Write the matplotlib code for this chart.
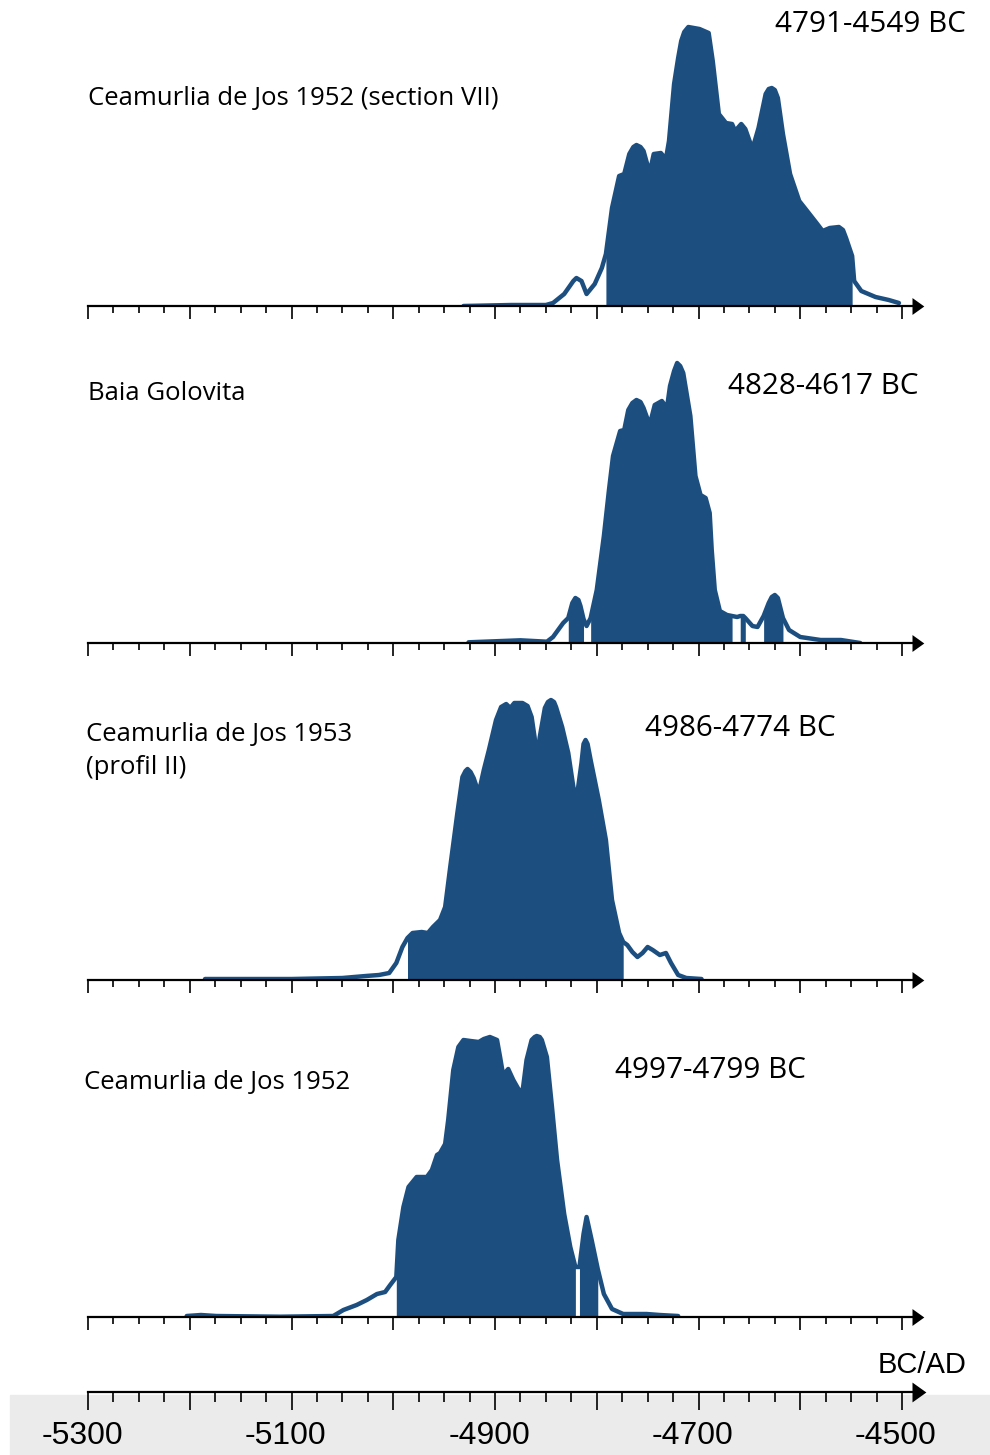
import numpy as np
import matplotlib.pyplot as plt
from matplotlib.patches import Rectangle
from matplotlib.transforms import ScaledTranslation

# krivulje vjerojatnosti (godine BC kao negativni brojevi, visina u relativnim jedinicama)
c1_years = [-4931, -4884, -4850, -4843, -4832, -4823, -4820, -4815, -4810, -4802, -4795,
            -4791, -4785, -4778, -4773, -4768, -4764, -4761, -4757, -4754, -4748, -4744, -4737,
            -4732, -4729, -4724, -4720, -4717, -4714, -4710, -4699, -4690, -4686, -4680, -4673,
            -4667, -4664, -4658, -4654, -4647, -4641, -4634, -4631, -4628, -4625, -4622, -4617,
            -4610, -4601, -4594, -4584, -4578, -4571, -4562, -4558, -4555, -4549, -4547,
            -4540, -4526, -4513, -4503]
c1_dens = [0, 1, 1, 3, 12, 25, 28, 25, 12, 22, 38,
           52, 98, 130, 132, 152, 159, 161, 159, 155, 133, 152, 153,
           147, 165, 222, 248, 265, 274, 279, 277, 273, 245, 192, 183,
           182, 175, 182, 177, 157, 178, 212, 217, 218, 216, 208, 172,
           132, 105, 96, 83, 75, 78, 79, 76, 68, 50, 25,
           15, 9, 6, 3]
c1_ranges = [(-4791, -4549)]

c2_years = [-4926, -4875, -4849, -4843, -4833, -4828, -4824, -4821, -4818, -4816, -4813, -4810,
            -4806, -4800, -4793, -4788, -4784, -4777, -4773, -4769, -4765, -4761, -4757, -4754,
            -4748, -4743, -4736, -4731, -4728, -4724, -4721, -4718, -4715, -4708, -4703, -4698,
            -4693, -4689, -4687, -4684, -4679, -4672, -4667, -4662, -4659, -4656,
            -4654, -4647, -4642, -4636, -4631, -4628, -4625, -4622, -4620, -4617, -4611, -4600,
            -4580, -4560, -4541]
c2_dens = [0.7, 2.7, 1.3, 6, 20, 25, 40, 45, 43, 37, 24, 17,
           25, 53, 107, 153, 187, 212, 213, 233, 240, 243, 241, 235,
           218, 238, 242, 235, 257, 272, 280, 277, 270, 227, 167, 148,
           145, 130, 93, 53, 32, 28, 27, 26, 27, 27,
           25, 17, 16, 27, 40, 46, 48, 45, 37, 25, 13, 6,
           3, 3, 0]
c2_ranges = [(-4828, -4813), (-4806, -4667), (-4659, -4654), (-4636, -4617)]

c3_years = [-5185, -5100, -5050, -5027, -5014, -5004, -4997, -4991, -4986, -4981,
            -4972, -4966, -4961, -4954, -4949, -4944, -4937, -4932, -4929, -4927, -4924, -4921,
            -4916, -4911, -4906, -4899, -4894, -4889, -4885, -4881, -4873, -4868,
            -4864, -4861, -4859, -4856, -4851, -4848, -4845, -4842, -4840, -4834, -4828, -4823,
            -4820, -4815, -4813, -4811, -4809, -4806, -4798, -4791, -4785, -4778, -4774, -4770,
            -4765, -4760, -4755, -4750, -4745, -4738, -4732, -4727, -4720, -4712,
            -4697]
c3_dens = [1, 1, 2, 4, 5, 7, 17, 33, 42, 47,
           48, 47, 53, 60, 73, 113, 167, 203, 209, 211, 208, 202,
           187, 210, 230, 260, 273, 276, 272, 277, 277, 274,
           263, 242, 220, 243, 272, 278, 280, 278, 273, 253, 227, 193,
           180, 217, 236, 240, 236, 220, 180, 140, 80, 47, 38, 35,
           28, 23, 27, 33, 30, 25, 27, 17, 5, 2,
           1]
c3_ranges = [(-4986, -4774)]

c4_years = [-5203, -5189, -5174, -5111, -5059, -5049, -5036, -5026, -5016, -5008,
            -5003, -4997, -4995, -4990, -4985, -4977, -4967, -4962, -4957, -4954,
            -4949, -4946, -4941, -4936, -4931, -4924, -4916, -4911, -4905, -4898,
            -4895, -4892, -4887, -4882, -4877, -4873, -4869, -4864, -4861, -4859, -4856, -4854,
            -4849, -4844, -4839, -4832, -4826, -4821, -4817, -4813, -4810, -4805,
            -4799, -4793, -4785, -4774, -4751, -4738, -4720]
c4_dens = [1, 2, 1, 0.3, 1, 7, 12, 17, 23, 25,
           32, 40, 77, 110, 130, 140, 140, 147, 162, 164,
           173, 197, 247, 270, 277, 276, 275, 278, 280, 277,
           260, 242, 248, 237, 228, 225, 257, 277, 280, 281, 280, 277,
           260, 210, 157, 103, 70, 50, 50, 83, 100, 77,
           48, 23, 8, 3, 3, 2, 1]
c4_ranges = [(-4997, -4821), (-4817, -4799)]

names = ["Ceamurlia de Jos 1952 (section VII)", "Baia Golovita",
         "Ceamurlia de Jos 1953\n(profil II)", "Ceamurlia de Jos 1952"]
range_labels = ["4791-4549 BC", "4828-4617 BC", "4986-4774 BC", "4997-4799 BC"]
tick_labels = ["-5300", "", "-5100", "", "-4900", "", "-4700", "", "-4500"]

W, H = 990, 1455
plava = "#1c4f80"
x0_px, px_per_yr = 88, 814 / 800.0
x_end = -4490
strelica = [(0, -10), (0, 10), (14, 0), (0, -10)]   # vrh strelice na kraju osi


def ax_at(bottom_px, height_px):
    # pravi os u pikselima, lijevi rub je -5300
    left = x0_px / W
    width = (x_end + 5300) * px_per_yr / W
    return fig.add_axes([left, 1 - bottom_px / H, width, height_px / H])


def axis_line(ax, labels=False):
    ax.set_xlim(-5300, x_end)
    for s in ["top", "right", "left"]:
        ax.spines[s].set_visible(False)
    ax.spines["bottom"].set_linewidth(1.6)
    ax.set_yticks([])
    ax.set_xticks(np.arange(-5300, -4499, 100))
    ax.set_xticks(np.arange(-5300, -4499, 25), minor=True)
    if labels:
        ax.tick_params(axis="x", which="major", length=13, width=1.2, direction="out", pad=8)
        ax.tick_params(axis="x", which="minor", length=7, width=1.2, direction="out")
        ax.set_xticklabels(tick_labels, fontsize=23, family="Liberation Sans")
        # brojevi su malo pomaknuti ulijevo od crtice
        for t in ax.get_xticklabels():
            t.set_transform(t.get_transform() + ScaledTranslation(-6 / 100, 0, fig.dpi_scale_trans))
        ms = 20
    else:
        ax.tick_params(axis="x", which="major", length=9.5, width=1.2, direction="out")
        ax.tick_params(axis="x", which="minor", length=5, width=1.2, direction="out")
        ax.set_xticklabels([])
        ms = 17
    ax.plot([x_end], [0], marker=strelica, ms=ms, color="black", mew=0, clip_on=False,
            transform=ax.get_xaxis_transform())
    ax.patch.set_alpha(0)


fig = plt.figure(figsize=(W / 100, H / 100), dpi=100)

# siva traka na dnu
fig.add_artist(Rectangle((10 / W, 0), 1, (H - 1395) / H, transform=fig.transFigure,
                         color="#ebebeb", zorder=-5))

curves = [(c1_years, c1_dens, c1_ranges), (c2_years, c2_dens, c2_ranges),
          (c3_years, c3_dens, c3_ranges), (c4_years, c4_dens, c4_ranges)]
baselines = [306, 643, 980, 1317]

for (yrs, dens, rngs), base in zip(curves, baselines):
    ax = ax_at(base, 300)
    ax.set_ylim(0, 300)
    yrs = np.array(yrs)
    dens = np.array(dens)
    for lo, hi in rngs:
        m = (yrs >= lo) & (yrs <= hi)
        ax.fill_between(yrs[m], 0, dens[m], color=plava, lw=0)
    ax.plot(yrs, dens, color=plava, lw=3.2, solid_capstyle="round", solid_joinstyle="round")
    axis_line(ax)

axb = ax_at(1392, 60)
axb.set_ylim(0, 1)
axis_line(axb, labels=True)

fs_name = 18.5
fs_rng = 21.3
lab_font = ["Open Sans", "DejaVu Sans"]
fig.text(88 / W, 1 - 98 / H, names[0], fontsize=fs_name, family=lab_font, va="center")
fig.text(88 / W, 1 - 393 / H, names[1], fontsize=fs_name, family=lab_font, va="center")
fig.text(86 / W, 1 - 751 / H, names[2], fontsize=fs_name, family=lab_font, va="center",
         linespacing=1.45)
fig.text(84 / W, 1 - 1082 / H, names[3], fontsize=fs_name, family=lab_font, va="center")

fig.text(966 / W, 1 - 25 / H, range_labels[0], fontsize=fs_rng, family=lab_font, va="center", ha="right")
fig.text(918 / W, 1 - 386 / H, range_labels[1], fontsize=fs_rng, family=lab_font, va="center", ha="right")
fig.text(836 / W, 1 - 728 / H, range_labels[2], fontsize=fs_rng, family=lab_font, va="center", ha="right")
fig.text(806 / W, 1 - 1071 / H, range_labels[3], fontsize=fs_rng, family=lab_font, va="center", ha="right")

fig.text(967 / W, 1 - 1365 / H, "BC/AD", fontsize=21, family="Liberation Sans", va="center", ha="right")

fig.savefig("out.png", dpi=100)
